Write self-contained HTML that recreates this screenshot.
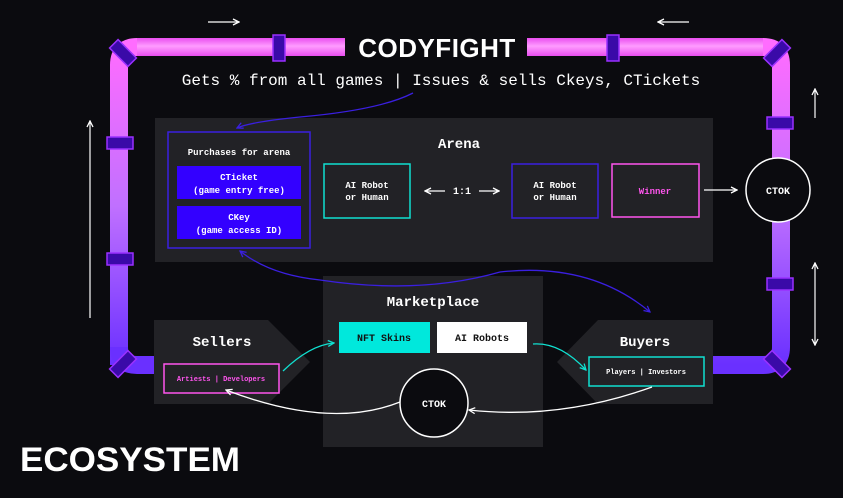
<!DOCTYPE html>
<html><head><meta charset="utf-8"><style>
body{margin:0;background:#0b0b0f;}
svg{display:block}
.m{font-family:"Liberation Mono","DejaVu Sans Mono",monospace;font-weight:bold;fill:#fff}
</style></head><body>
<svg width="843" height="498" viewBox="0 0 843 498" xmlns="http://www.w3.org/2000/svg">
<defs>
<linearGradient id="pv" x1="0" y1="0" x2="0" y2="1" gradientUnits="userSpaceOnUse" x1a="0">
</linearGradient>
<linearGradient id="g" x1="0" y1="47" x2="0" y2="365" gradientUnits="userSpaceOnUse">
<stop offset="0" stop-color="#ff6cff"/><stop offset="0.5" stop-color="#c070ff"/><stop offset="1" stop-color="#6a30ff"/></linearGradient>
<linearGradient id="gh" x1="0" y1="38" x2="0" y2="56" gradientUnits="userSpaceOnUse">
<stop offset="0" stop-color="#e040e8"/><stop offset="0.45" stop-color="#ffb0ff"/><stop offset="1" stop-color="#e040e8"/></linearGradient>
<marker id="aw" markerWidth="8" markerHeight="8" refX="7" refY="4" orient="auto" markerUnits="userSpaceOnUse"><path d="M1,1 L7,4 L1,7" fill="none" stroke="#fff" stroke-width="1.3"/></marker>
<marker id="ap" markerWidth="8" markerHeight="8" refX="7" refY="4" orient="auto" markerUnits="userSpaceOnUse"><path d="M1,1 L7,4 L1,7" fill="none" stroke="#3a1fe0" stroke-width="1.3"/></marker>
<marker id="at" markerWidth="8" markerHeight="8" refX="7" refY="4" orient="auto" markerUnits="userSpaceOnUse"><path d="M1,1 L7,4 L1,7" fill="none" stroke="#10e0d0" stroke-width="1.3"/></marker>
</defs>
<!-- pipes -->
<path d="M119,365 L119,65 Q119,47 137,47 L345,47" fill="none" stroke="url(#g)" stroke-width="18"/>
<path d="M527,47 L763,47 Q781,47 781,65 L781,347 Q781,365 763,365 L712,365" fill="none" stroke="url(#g)" stroke-width="18"/>
<path d="M155,365 L137,365 Q119,365 119,347" fill="none" stroke="#6a30ff" stroke-width="18"/>
<rect x="137" y="38" width="208" height="18" fill="url(#gh)" opacity="0.7"/>
<rect x="527" y="38" width="236" height="18" fill="url(#gh)" opacity="0.7"/>
<!-- connectors -->
<g fill="#3a0aa8" stroke="#9a30ff" stroke-width="1.5">
<rect x="273" y="35" width="12" height="26"/><rect x="607" y="35" width="12" height="26"/>
<rect x="107" y="137" width="26" height="12"/><rect x="107" y="253" width="26" height="12"/>
<rect x="767" y="117" width="26" height="12"/><rect x="767" y="278" width="26" height="12"/>
<rect x="110" y="47" width="26" height="12" transform="rotate(45 123 53)"/>
<rect x="764" y="47" width="26" height="12" transform="rotate(-45 777 53)"/>
<rect x="110" y="358" width="26" height="12" transform="rotate(-45 123 364)"/>
<rect x="764" y="358" width="26" height="12" transform="rotate(45 777 364)"/>
</g>
<text x="437" y="57" text-anchor="middle" font-family="Liberation Sans,sans-serif" font-weight="bold" font-size="26" fill="#fff" letter-spacing="0.5">CODYFIGHT</text>
<text x="441" y="85" text-anchor="middle" font-family="Liberation Mono,monospace" font-size="16" fill="#fff">Gets % from all games | Issues &amp; sells Ckeys, CTickets</text>
<!-- side arrows -->
<g stroke="#fff" stroke-width="1.2" fill="none">
<line x1="208" y1="22" x2="239" y2="22" marker-end="url(#aw)"/>
<line x1="689" y1="22" x2="658" y2="22" marker-end="url(#aw)"/>
<line x1="90" y1="318" x2="90" y2="121" marker-end="url(#aw)"/>
<line x1="815" y1="118" x2="815" y2="89" marker-end="url(#aw)"/>
<line x1="815" y1="300" x2="815" y2="263" marker-end="url(#aw)"/>
<line x1="815" y1="300" x2="815" y2="345" marker-end="url(#aw)"/>
</g>
<!-- Arena -->
<rect x="155" y="118" width="558" height="144" fill="#222226"/>
<text x="459" y="148" text-anchor="middle" class="m" font-size="14">Arena</text>
<rect x="168" y="132" width="142" height="116" fill="none" stroke="#3a1fe0" stroke-width="1.5"/>
<text x="239" y="155" text-anchor="middle" class="m" font-size="9">Purchases for arena</text>
<rect x="177" y="166" width="124" height="33" fill="#3300ff"/>
<rect x="177" y="206" width="124" height="33" fill="#3300ff"/>
<text x="239" y="180" text-anchor="middle" class="m" font-size="9">CTicket</text>
<text x="239" y="193" text-anchor="middle" class="m" font-size="9" font-weight="normal">(game entry free)</text>
<text x="239" y="220" text-anchor="middle" class="m" font-size="9">CKey</text>
<text x="239" y="233" text-anchor="middle" class="m" font-size="9" font-weight="normal">(game access ID)</text>
<rect x="324" y="164" width="86" height="54" fill="none" stroke="#10e0d0" stroke-width="1.5"/>
<text x="367" y="188" text-anchor="middle" class="m" font-size="9">AI Robot</text>
<text x="367" y="200" text-anchor="middle" class="m" font-size="9">or Human</text>
<text x="462" y="194" text-anchor="middle" class="m" font-size="10">1:1</text>
<line x1="445" y1="191" x2="425" y2="191" stroke="#fff" stroke-width="1.2" marker-end="url(#aw)"/>
<line x1="479" y1="191" x2="499" y2="191" stroke="#fff" stroke-width="1.2" marker-end="url(#aw)"/>
<rect x="512" y="164" width="86" height="54" fill="none" stroke="#3a1fe0" stroke-width="1.5"/>
<text x="555" y="188" text-anchor="middle" class="m" font-size="9">AI Robot</text>
<text x="555" y="200" text-anchor="middle" class="m" font-size="9">or Human</text>
<rect x="612" y="164" width="87" height="53" fill="none" stroke="#ff55ee" stroke-width="1.5"/>
<text x="655" y="194" text-anchor="middle" class="m" font-size="9" fill="#ff55ee" style="fill:#ff55ee">Winner</text>
<line x1="704" y1="190" x2="737" y2="190" stroke="#fff" stroke-width="1.2" marker-end="url(#aw)"/>
<circle cx="778" cy="190" r="32" fill="#0b0b0f" stroke="#fff" stroke-width="1.5"/>
<text x="778" y="194" text-anchor="middle" class="m" font-size="10">CTOK</text>
<!-- Marketplace -->
<rect x="323" y="276" width="220" height="171" fill="#222226"/>
<text x="433" y="306" text-anchor="middle" class="m" font-size="14">Marketplace</text>
<rect x="339" y="322" width="91" height="31" fill="#00e8dc"/>
<text x="384" y="341" text-anchor="middle" class="m" font-size="10" style="fill:#111">NFT Skins</text>
<rect x="437" y="322" width="90" height="31" fill="#fff"/>
<text x="482" y="341" text-anchor="middle" class="m" font-size="10" style="fill:#111">AI Robots</text>
<!-- Sellers -->
<path d="M154,320 L268,320 L310,362 L268,404 L154,404 Z" fill="#222226"/>
<text x="222" y="346" text-anchor="middle" class="m" font-size="14">Sellers</text>
<rect x="164" y="364" width="115" height="29" fill="none" stroke="#ff55ee" stroke-width="1.5"/>
<text x="221" y="381" text-anchor="middle" class="m" font-size="7" style="fill:#ff55ee">Artiests | Developers</text>
<!-- Buyers -->
<path d="M713,320 L598,320 L557,362 L598,404 L713,404 Z" fill="#222226"/>
<text x="645" y="346" text-anchor="middle" class="m" font-size="14">Buyers</text>
<rect x="589" y="357" width="115" height="29" fill="none" stroke="#10e0d0" stroke-width="1.5"/>
<text x="646" y="374" text-anchor="middle" class="m" font-size="7">Players | Investors</text>
<circle cx="434" cy="403" r="34" fill="#0b0b0f" stroke="#fff" stroke-width="1.5"/>
<text x="434" y="407" text-anchor="middle" class="m" font-size="10">CTOK</text>
<!-- curves -->
<g fill="none" stroke-width="1.3">
<path d="M413,93 Q380,110 300,117 Q250,122 237,128" stroke="#3a1fe0" marker-end="url(#ap)"/>
<path d="M320,280 Q270,275 240,251" stroke="#3a1fe0" marker-end="url(#ap)"/>
<path d="M320,280 Q420,295 500,272 Q590,262 650,312" stroke="#3a1fe0" marker-end="url(#ap)"/>
<path d="M283,371 Q310,345 334,343" stroke="#10e0d0" marker-end="url(#at)"/>
<path d="M533,344 Q560,342 586,370" stroke="#10e0d0" marker-end="url(#at)"/>
<path d="M652,387 Q560,420 469,410" stroke="#fff" marker-end="url(#aw)"/>
<path d="M400,402 Q330,430 226,390" stroke="#fff" marker-end="url(#aw)"/>
</g>
<text x="20" y="471" font-family="Liberation Sans,sans-serif" font-weight="bold" font-size="34" fill="#fff" textLength="220" lengthAdjust="spacingAndGlyphs">ECOSYSTEM</text>
</svg>
</body></html>
